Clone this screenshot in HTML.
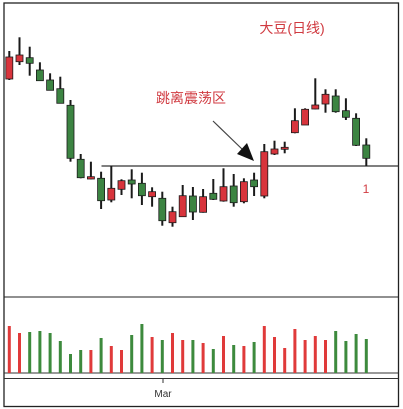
<!DOCTYPE html>
<html><head><meta charset="utf-8"><style>
html,body{margin:0;padding:0;background:#fff;}
svg{display:block;}
text{font-family:"Liberation Sans","Noto Sans CJK SC",sans-serif;}
</style></head><body>
<svg id="chart" width="403" height="409" viewBox="0 0 403 409" xmlns="http://www.w3.org/2000/svg">
<rect x="4" y="3" width="394.5" height="403.5" fill="#fff" stroke="#222" stroke-width="1.3"/>
<line x1="4" y1="297" x2="398.5" y2="297" stroke="#222" stroke-width="1"/>
<line x1="4" y1="373" x2="398.5" y2="373" stroke="#333" stroke-width="1"/>
<line x1="4" y1="378.5" x2="398.5" y2="378.5" stroke="#333" stroke-width="1"/>
<g id="candles"></g>
<g id="vols"></g>
<text x="292" y="33" font-size="14" fill="#d03a40" text-anchor="middle">大豆(日线)</text>
<text x="191" y="103" font-size="14" fill="#d03a40" text-anchor="middle">跳离震荡区</text>
<text x="366" y="193" font-size="12" fill="#d03a40" text-anchor="middle">1</text>
<line x1="213" y1="121" x2="243" y2="150" stroke="#444" stroke-width="1.2"/>
<polygon points="254,161 237,154 247,143" fill="#111"/>
<line x1="163" y1="378.5" x2="163" y2="383" stroke="#333"/>
<text x="163" y="397" font-size="10" fill="#333" text-anchor="middle">Mar</text>
</svg>
<script>
const opens  =[161,178.3,182.3,170,160,151.3,134.7,80.7,61,61.7,40,50.7,60,56.7,43.3,41.7,17.3,23.3,44,27.7,46.7,39,54,38.3,60,44,86,90.7,107.3,115,131,136,144,129.3,121.7,95];
const closes =[183,185,176.7,159.3,149.7,136.7,81.7,62.3,63.3,39.3,51.7,59.3,56,44.3,48.3,19.3,28.3,44.3,28,43.3,40.7,53.3,37.3,58.3,53.3,88.3,91,92.7,119.3,130.7,135,145.7,128.3,122.7,94.7,81.7];
const highs  =[189,202.7,193.3,177.7,166.7,163.3,140,86,78.3,68.3,74,60.7,70.7,67.3,52.7,48.3,33.3,55,53,51,61,71.7,66,61.7,67.3,96,99.3,98.3,131.7,131.7,161.7,150.7,150.7,141.7,126.7,101.7];
const lows   =[160,175,164.3,159,149.7,136.7,78.3,61.7,60.7,31,37.7,45,41.7,35,33.3,14.3,13.3,23.3,20,27.3,40,38.3,33.3,36.7,44,41.7,85,86.7,106.7,115,130.7,127.3,127.3,120,94,74];
const volumes=[47,40,41,42,40,32,19,23,23,35,27,23,38,49,36,33,40,33,33,30,24,37,28,27,31,47,36,25,44,33,37,33,42,32,39,34];
const volUp  =[1,1,0,0,0,0,0,0,1,0,1,1,0,0,1,0,1,1,0,1,0,1,0,1,0,1,1,1,1,1,1,1,0,0,0,0];
const resistance=[74];
const NS="http://www.w3.org/2000/svg";
function xScale(i){return 9.3+i*10.2;}
function yScale(p){return 240-p;}
function vScale(v){return 373-v;}
const RED="#d8343c",GREEN="#3c8442",EDGE="#1a1a1a";
const cg=document.getElementById('candles');
const vg=document.getElementById('vols');
const rl=document.createElementNS(NS,'line');


rl.setAttribute('x1',101.5);rl.setAttribute('x2',398.5);
rl.setAttribute('y1',yScale(resistance[0]));rl.setAttribute('y2',yScale(resistance[0]));
rl.setAttribute('stroke','#333');rl.setAttribute('stroke-width','1.2');
cg.appendChild(rl);
for(let i=0;i<opens.length;i++){
  const x=xScale(i);
  const up=closes[i]>=opens[i];
  const w=document.createElementNS(NS,'line');
  
  
  w.setAttribute('x1',x);w.setAttribute('x2',x);
  w.setAttribute('y1',yScale(highs[i]));w.setAttribute('y2',yScale(lows[i]));
  w.setAttribute('stroke',EDGE);w.setAttribute('stroke-width','2');
  cg.appendChild(w);
  const top=yScale(Math.max(opens[i],closes[i]));
  const h=Math.max(1.5,Math.abs(opens[i]-closes[i]));
  const b=document.createElementNS(NS,'rect');
  
  
  b.setAttribute('x',x-3.5);b.setAttribute('y',top);
  b.setAttribute('width',7);b.setAttribute('height',h);
  b.setAttribute('fill',up?RED:GREEN);
  b.setAttribute('stroke',EDGE);b.setAttribute('stroke-width','0.8');
  cg.appendChild(b);
  const v=document.createElementNS(NS,'rect');
  
  
  v.setAttribute('x',x-1.5);v.setAttribute('y',vScale(volumes[i]));
  v.setAttribute('width',3);v.setAttribute('height',373-vScale(volumes[i]));
  v.setAttribute('fill',volUp[i]?"#e03a3a":"#3d8a3d");
  vg.appendChild(v);
}
</script>
</body></html>
